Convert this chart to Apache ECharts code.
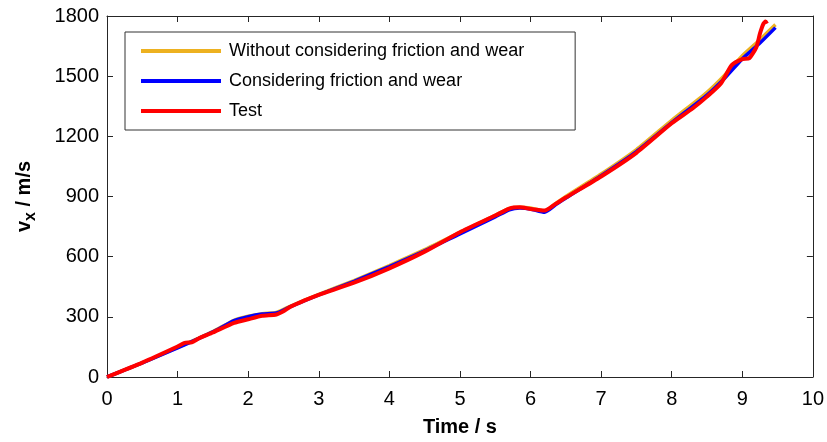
<!DOCTYPE html>
<html>
<head>
<meta charset="utf-8">
<script src="https://cdn.jsdelivr.net/npm/echarts@6/dist/echarts.min.js"></script>
<style>
  html, body { margin: 0; padding: 0; background: #fff; }
  #chart { width: 827px; height: 442px; }
</style>
</head>
<body>
<div id="chart"></div>
<script>
// Simulated and measured velocity histories
const seriesNames = ['Without considering friction and wear', 'Considering friction and wear', 'Test'];

const simTime = [0, 0.5, 1, 1.5, 1.8, 2, 2.2, 2.4, 2.6, 3, 3.5, 4, 4.5, 5, 5.5, 5.7, 5.85, 6, 6.2, 6.35, 6.5, 7, 7.5, 8, 8.5, 8.75, 9, 9.25, 9.47];
const noFriction = [0, 70, 147, 227, 283, 303, 316, 322, 354, 412, 481, 556, 635, 721, 806, 840, 847, 843, 828, 864, 900, 1012, 1134, 1280, 1420, 1505, 1602, 1682, 1757];
const withFriction = [0, 70, 145, 225, 281, 301, 314, 319, 351, 409, 477, 551, 629, 714, 798, 834, 843, 838, 822, 857, 892, 1004, 1124, 1268, 1406, 1490, 1586, 1665, 1742];

const testTime = [0, 0.5, 1, 1.1, 1.2, 1.3, 1.5, 1.8, 2, 2.2, 2.4, 2.5, 2.6, 2.8, 3, 3.5, 4, 4.5, 5, 5.5, 5.7, 5.85, 6, 6.2, 6.35, 6.5, 7, 7.5, 8, 8.3, 8.5, 8.7, 8.85, 9, 9.1, 9.2, 9.25, 9.3, 9.33, 9.35];
const testValues = [0, 72, 152, 170, 173, 192, 222, 270, 288, 305, 312, 328, 350, 382, 410, 470, 542, 625, 722, 805, 840, 846, 838, 830, 862, 895, 1000, 1118, 1265, 1340, 1398, 1465, 1555, 1585, 1590, 1645, 1712, 1762, 1772, 1762];

const xTicks = { min: 0, max: 10, interval: 1 };
const yTicks = { min: 0, max: 1800, interval: 300 };

const pairs = (xs, ys) => xs.map((x, i) => [x, ys[i]]);

const axisColor = '#262626';
const fontFamily = 'Liberation Sans, Arial, sans-serif';
const tickFont = { fontFamily, fontSize: 20, color: '#000' };

const chart = echarts.init(document.getElementById('chart'));
chart.setOption({
  animation: false,
  backgroundColor: '#fff',
  grid: { left: 107, right: 14, top: 16, bottom: 62 },
  legend: {
    orient: 'vertical',
    left: 125,
    top: 32,
    padding: [9, 51, 9, 16],
    itemGap: 10,
    itemWidth: 80,
    itemHeight: 4,
    icon: 'rect',
    borderColor: '#333',
    borderWidth: 1,
    backgroundColor: '#fff',
    textStyle: { fontFamily, fontSize: 18, color: '#000', lineHeight: 20, padding: [0, 0, 0, 3] },
    data: seriesNames
  },
  xAxis: [
    {
      type: 'value', ...xTicks,
      name: 'Time / s',
      nameLocation: 'middle',
      nameGap: 40,
      nameTextStyle: { fontFamily, fontSize: 20, fontWeight: 'bold', color: '#000' },
      axisLine: { show: true, lineStyle: { color: axisColor, width: 1 } },
      axisTick: { show: true, inside: true, length: 6, lineStyle: { color: axisColor } },
      axisLabel: { ...tickFont, margin: 12, formatter: v => String(v) },
      splitLine: { show: false }
    },
    {
      type: 'value', ...xTicks, position: 'top',
      axisLine: { show: true, onZero: false, lineStyle: { color: axisColor, width: 1 } },
      axisTick: { show: true, inside: true, length: 6, lineStyle: { color: axisColor } },
      axisLabel: { show: false },
      splitLine: { show: false }
    }
  ],
  yAxis: [
    {
      type: 'value', ...yTicks,
      name: '{a|v}{b|x}{a| / m/s}',
      nameLocation: 'middle',
      nameGap: 68,
      nameTextStyle: {
        color: '#000',
        rich: {
          a: { fontFamily, fontSize: 20, fontWeight: 'bold', lineHeight: 30, verticalAlign: 'middle' },
          b: { fontFamily, fontSize: 16, fontWeight: 'bold', lineHeight: 30, verticalAlign: 'bottom' }
        }
      },
      axisLine: { show: true, lineStyle: { color: axisColor, width: 1 } },
      axisTick: { show: true, inside: true, length: 6, lineStyle: { color: axisColor } },
      axisLabel: { ...tickFont, margin: 8, formatter: v => String(v) },
      splitLine: { show: false }
    },
    {
      type: 'value', ...yTicks, position: 'right',
      axisLine: { show: true, onZero: false, lineStyle: { color: axisColor, width: 1 } },
      axisTick: { show: true, inside: true, length: 6, lineStyle: { color: axisColor } },
      axisLabel: { show: false },
      splitLine: { show: false }
    }
  ],
  series: [
    {
      name: seriesNames[0], type: 'line', data: pairs(simTime, noFriction),
      showSymbol: false, smooth: 0.2, color: '#EDB120',
      lineStyle: { width: 3.5, color: '#EDB120' }
    },
    {
      name: seriesNames[1], type: 'line', data: pairs(simTime, withFriction),
      showSymbol: false, smooth: 0.2, color: '#0000FF',
      lineStyle: { width: 3.5, color: '#0000FF' }
    },
    {
      name: seriesNames[2], type: 'line', data: pairs(testTime, testValues),
      showSymbol: false, smooth: 0.2, color: '#FF0000',
      lineStyle: { width: 4, color: '#FF0000' }
    }
  ]
});
</script>
</body>
</html>
